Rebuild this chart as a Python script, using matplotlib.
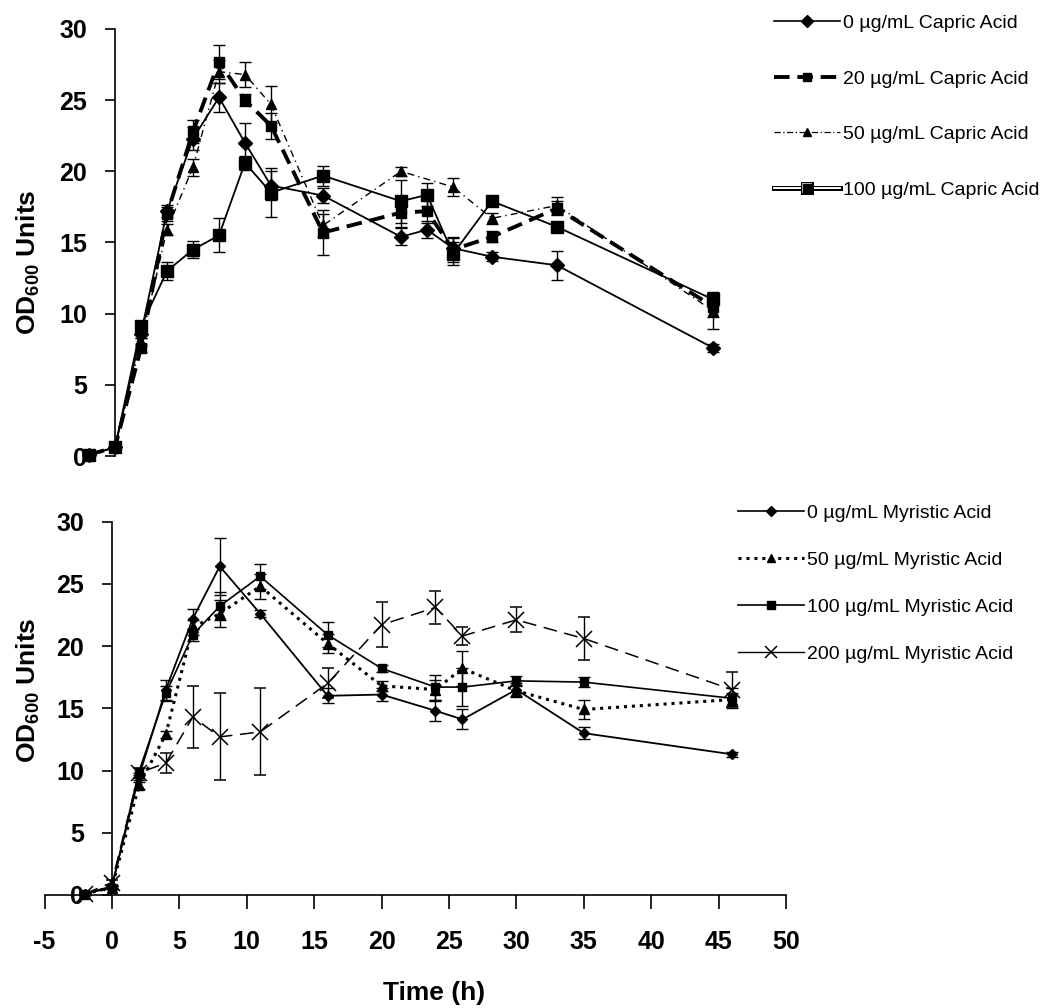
import matplotlib
matplotlib.use("Agg")
import matplotlib.pyplot as plt
from matplotlib.lines import Line2D
import matplotlib.patheffects as pe

plt.rcParams['font.family'] = ['Liberation Sans', 'DejaVu Sans']
plt.rcParams['mathtext.fontset'] = 'custom'
plt.rcParams['mathtext.rm'] = 'Liberation Sans:bold'
plt.rcParams['mathtext.bf'] = 'Liberation Sans:bold'
plt.rcParams['mathtext.default'] = 'bf'

# capric acid (top panel)
t_cap = [-2, 0, 2, 4, 6, 8, 10, 12, 16, 22, 24, 26, 29, 34, 46]
t_cap50 = [-2, 0, 2, 4, 6, 8, 10, 12, 16, 22, 26, 29, 34, 46]
cap0 = [0.1, 0.6, 8.6, 17.2, 22.3, 25.2, 22.0, 19.0, 18.3, 15.4, 15.9, 14.6, 14.0, 13.4, 7.6]
cap0_err = [0.1, 0.1, 0.3, 0.4, 0.8, 1.0, 1.4, 1.0, 0.5, 0.6, 0.6, 0.7, 0.3, 1.0, 0.3]
cap20 = [0.1, 0.6, 7.6, 17.0, 22.8, 27.7, 25.0, 23.2, 15.7, 17.1, 17.2, 14.5, 15.4, 17.4, 10.5]
cap20_err = [0.1, 0.1, 0.3, 0.5, 0.8, 1.2, 0.4, 0.9, 1.6, 1.0, 0.8, 0.9, 0.4, 0.5, 0.7]
cap50 = [0.1, 0.6, 8.0, 15.9, 20.3, 27.0, 26.8, 24.7, 16.2, 20.0, 18.9, 16.7, 17.6, 10.2]
cap50_err = [0.1, 0.1, 0.3, 0.4, 0.6, 0.8, 0.9, 1.3, 0.8, 0.3, 0.6, 0.4, 0.6, 1.3]
cap100 = [0.1, 0.6, 9.1, 13.0, 14.5, 15.5, 20.6, 18.5, 19.7, 17.9, 18.35, 14.2, 17.9, 16.1, 11.0]
cap100_err = [0.1, 0.1, 0.3, 0.6, 0.6, 1.2, 0.5, 1.7, 0.7, 1.5, 0.8, 0.8, 0.3, 0.3, 0.4]

# myristic acid (bottom panel)
t_myr = [-2, 0, 2, 4, 6, 8, 11, 16, 20, 24, 26, 30, 35, 46]
myr0 = [0.1, 0.7, 9.5, 16.5, 22.2, 26.4, 22.6, 16.0, 16.1, 14.8, 14.1, 16.5, 13.0, 11.3]
myr0_err = [0.1, 0.1, 0.3, 0.8, 0.8, 2.3, 0.3, 0.6, 0.5, 0.8, 0.8, 0.5, 0.5, 0.2]
myr50 = [0.1, 0.6, 8.8, 12.9, 21.5, 22.6, 24.8, 20.2, 16.8, 16.5, 18.2, 16.4, 14.9, 15.7]
myr50_err = [0.1, 0.1, 0.3, 0.3, 0.6, 1.1, 1.0, 0.8, 0.4, 0.8, 1.4, 0.5, 0.8, 0.5]
myr100 = [0.1, 0.6, 9.9, 16.2, 20.9, 23.2, 25.6, 20.9, 18.2, 16.7, 16.7, 17.2, 17.1, 15.8]
myr100_err = [0.1, 0.1, 0.3, 0.6, 0.5, 1.1, 1.0, 1.0, 0.3, 1.0, 1.5, 0.4, 0.4, 0.8]
myr200 = [0.1, 1.0, 9.8, 10.6, 14.3, 12.7, 13.1, 17.0, 21.7, 23.1, 20.8, 22.1, 20.6, 16.5]
myr200_err = [0.1, 0.2, 0.4, 0.8, 2.5, 3.5, 3.5, 1.2, 1.8, 1.3, 0.7, 1.0, 1.7, 1.4]

cap_labels = ['0 µg/mL Capric Acid', '20 µg/mL Capric Acid',
              '50 µg/mL Capric Acid', '100 µg/mL Capric Acid']
myr_labels = ['0 µg/mL Myristic Acid', '50 µg/mL Myristic Acid',
              '100 µg/mL Myristic Acid', '200 µg/mL Myristic Acid']

W, H = 1046, 1008
fig = plt.figure(figsize=(W / 100, H / 100), dpi=100)

# axes placed in pixel coordinates of the reference
ax1 = fig.add_axes([50 / W, 1 - 456 / H, 715 / W, 427 / H])
ax2 = fig.add_axes([44.5 / W, 1 - 895 / H, 741.5 / W, 373.5 / H])

# spine position first, it resets the tick settings
for ax in (ax1, ax2):
    ax.spines['top'].set_visible(False)
    ax.spines['right'].set_visible(False)
    ax.spines['left'].set_position(('data', 0))
    ax.spines['left'].set_linewidth(1.2)
    ax.patch.set_alpha(0)

eb = dict(ecolor='k', elinewidth=1, capsize=4, capthick=1, color='k', clip_on=False)

# top panel
ax1.errorbar(t_cap, cap0, yerr=cap0_err, marker='D', ms=7, ls='-', lw=1.3, zorder=3, **eb)
ax1.errorbar(t_cap, cap20, yerr=cap20_err, marker='s', ms=7, ls=(0, (4, 2)), lw=2.8, zorder=3, **eb)
ax1.errorbar(t_cap50, cap50, yerr=cap50_err, marker='^', ms=7, ls=(0, (5, 3, 1, 3)), lw=1.0, zorder=3, **eb)
ax1.errorbar(t_cap, cap100, yerr=cap100_err, marker='s', ms=8.5, ls='-', lw=1.3, zorder=3, **eb)

# bottom panel
ax2.errorbar(t_myr, myr0, yerr=myr0_err, marker='D', ms=5, ls='-', lw=1.3, zorder=3, **eb)
ax2.errorbar(t_myr, myr50, yerr=myr50_err, marker='^', ms=6.5, ls=(0, (1, 1.6)), lw=2.2, zorder=3, **eb)
ax2.errorbar(t_myr, myr100, yerr=myr100_err, marker='s', ms=6, ls='-', lw=1.2, zorder=3, **eb)
ax2.errorbar(t_myr, myr200, yerr=myr200_err, marker='x', ms=11, mew=1.1, ls=(0, (9, 5)), lw=1.1, zorder=3, **eb)

tick_font = dict(fontsize=18, fontweight='bold')

for ax in (ax1, ax2):
    ax.set_xlim(-5, 50)
    ax.set_ylim(0, 30)
    ax.set_yticks(range(0, 31, 5))
    ax.set_yticklabels([str(v) for v in range(0, 31, 5)], **tick_font)
    ax.tick_params(axis='y', direction='out', length=7, width=1.2, pad=13)

ax1.spines['bottom'].set_visible(False)
ax1.set_xticks([])

ax2.set_xticks(range(-5, 51, 5))
ax2.set_xticklabels([str(v) for v in range(-5, 51, 5)], **tick_font)
ax2.spines['bottom'].set_linewidth(1.2)
ax2.tick_params(axis='x', direction='out', length=10, width=1.2, pad=15)

fig.text(28 / W, 1 - 262 / H, r'OD$_{600}$ Units', rotation=90, ha='center', va='center',
         fontsize=19, fontweight='bold')
fig.text(28 / W, 1 - 690 / H, r'OD$_{600}$ Units', rotation=90, ha='center', va='center',
         fontsize=19, fontweight='bold')
fig.text(434 / W, 1 - 993 / H, 'Time (h)', ha='center', va='center', fontsize=19, fontweight='bold')

# legend handles
double = [pe.Stroke(linewidth=3.6, foreground='k'), pe.Stroke(linewidth=1.2, foreground='w'), pe.Normal()]
cap_handles = [
    Line2D([], [], color='k', marker='D', ms=6, lw=1.2),
    Line2D([], [], color='k', marker='s', ms=6, lw=2.8, ls=(0, (4, 2))),
    Line2D([], [], color='k', marker='^', ms=6, lw=0.9, ls=(0, (5, 2, 1, 2))),
    Line2D([], [], color='w', marker='s', ms=6, mfc='k', mec='k', lw=1.2, path_effects=double),
]
myr_handles = [
    Line2D([], [], color='k', marker='D', ms=5, lw=1.2),
    Line2D([], [], color='k', marker='^', ms=6, lw=2.2, ls=(0, (1, 1.6))),
    Line2D([], [], color='k', marker='s', ms=6, lw=1.2),
    Line2D([], [], color='k', marker='x', ms=9, mew=1.1, lw=1.0),
]

leg_kw = dict(loc='upper left', frameon=False, fontsize=14, handlelength=3.4,
              handletextpad=0.15, borderpad=0.2)
fig.legend(cap_handles, cap_labels, bbox_to_anchor=(760 / W, 1 - 1 / H),
           labelspacing=1.95, **leg_kw)
fig.legend(myr_handles, myr_labels, bbox_to_anchor=(724 / W, 1 - 491 / H),
           labelspacing=1.5, **leg_kw)

fig.savefig('out.png', dpi=100)
